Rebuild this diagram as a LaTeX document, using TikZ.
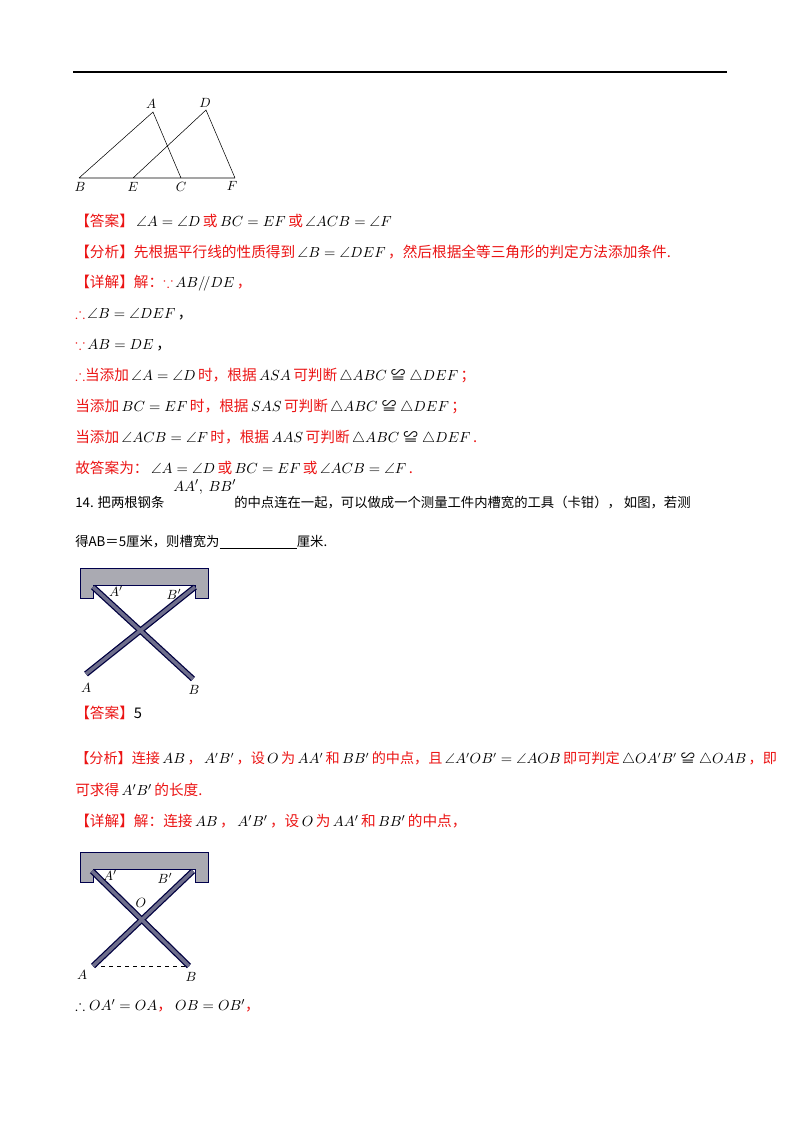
\documentclass[tikz,border=0pt]{standalone}
\usepackage{amsmath,amssymb}
\usepackage{fontspec}
\setmainfont{Noto Sans CJK SC}
\definecolor{ansred}{RGB}{235,20,20}
\definecolor{stick}{RGB}{110,110,140}
\definecolor{slot}{RGB}{170,170,178}
\tikzset{
  txt/.style={anchor=west,inner sep=0pt,font=\fontsize{11}{13}\selectfont},
  red/.style={txt,text=ansred},
  lbl/.style={inner sep=0pt,font=\fontsize{10}{12}\selectfont},
  rod/.style={line width=4.5pt,draw=black!75!blue,line cap=butt},
  rodin/.style={line width=2.6pt,draw=stick,line cap=butt}
}
\newcommand{\congr}{\mathrel{\text{≌}}}
\newcommand{\m}[1]{\,\textcolor{black}{$#1$}\,}
\begin{document}
\begin{tikzpicture}[x=0.75pt,y=-0.75pt]
\useasboundingbox (0,0) rectangle (800,1132);
\draw[line width=1.5pt] (73,72) -- (727,72);
% first figure
\coordinate (B) at (79,178); \coordinate (E) at (133,178);
\coordinate (C) at (181,178); \coordinate (F) at (235,178);
\coordinate (A) at (153,112); \coordinate (D) at (206,110);
\draw[thin] (B) -- (A) -- (C) (E) -- (D) -- (F) (B) -- (F);
\node[lbl] (lB) at (80,187) {$B$}; \node[lbl] (lE) at (133,187) {$E$};
\node[lbl] (lC) at (181,187) {$C$}; \node[lbl] (lF) at (232,186) {$F$};
\node[lbl] (lA) at (151,104) {$A$}; \node[lbl] (lD) at (205,103) {$D$};
% solution 13
\node[red] (t1) at (75,221) {【答案】\m{\angle A=\angle D}或\m{BC=EF}或\m{\angle ACB=\angle F}};
\node[red] (t2) at (75,252) {【分析】先根据平行线的性质得到\m{\angle B=\angle DEF}，然后根据全等三角形的判定方法添加条件.};
\node[red] (t3) at (75,283) {【详解】解：$\because$\m{AB/\!/DE}，};
\node[txt] (t4) at (75,314) {\textcolor{ansred}{$\therefore$}\,$\angle B=\angle DEF$\,，};
\node[txt] (t5) at (75,345) {\textcolor{ansred}{$\because$}\,$AB=DE$\,，};
\node[red] (t6) at (75,376) {$\therefore$当添加\m{\angle A=\angle D}时，根据\m{ASA}可判断\m{\triangle ABC\congr\triangle DEF}；};
\node[red] (t7) at (75,407) {当添加\m{BC=EF}时，根据\m{SAS}可判断\m{\triangle ABC\congr\triangle DEF}；};
\node[red] (t8) at (75,438) {当添加\m{\angle ACB=\angle F}时，根据\m{AAS}可判断\m{\triangle ABC\congr\triangle DEF}.};
\node[red] (t9) at (75,468) {故答案为：\m{\angle A=\angle D}或\m{BC=EF}或\m{\angle ACB=\angle F}.};
% question 14
\node[txt] (q1) at (75,502) {\fontsize{10}{12}\selectfont 14. 把两根钢条};
\node[txt] (q1s) at (173,487) {$AA',\ BB'$};
\node[txt] (q1b) at (234,502) {\fontsize{10}{12}\selectfont 的中点连在一起，可以做成一个测量工件内槽宽的工具（卡钳），\ 如图，若测};
\node[txt] (q2) at (75,542) {\fontsize{10}{12}\selectfont 得AB＝5厘米，则槽宽为\underline{\hspace{58pt}}厘米.};
% second figure
\def\caliper#1{%
  \filldraw[fill=slot,draw=black!70!blue] (80,#1) -- (208,#1) -- (208,#1+30) -- (195,#1+30)
    -- (195,#1+17) -- (93,#1+17) -- (93,#1+30) -- (80,#1+30) -- cycle;}
\caliper{568}
\coordinate (Ap) at (93,587); \coordinate (Bp) at (195,587);
\coordinate (Ae) at (86,674); \coordinate (Be) at (193,679);
\draw[rod] (Ap) -- (Be); \draw[rod] (Bp) -- (Ae);
\draw[rodin] (Ap) -- (Be); \draw[rodin] (Bp) -- (Ae);
\node[lbl] (lA2) at (86,688) {$A$}; \node[lbl] (lB2) at (194,690) {$B$};
\node[lbl] (lAp2) at (116,591) {$A'$}; \node[lbl] (lBp2) at (174,594) {$B'$};
\node[red] (s1) at (75,713) {【答案】\textcolor{black}{5}};
\node[red,font=\fontsize{10.6}{13}\selectfont] (s2) at (75,759) {【分析】连接\m{AB}，\m{A'B'}，设\m{O}为\m{AA'}和\m{BB'}的中点，且\m{\angle A'OB'=\angle AOB}即可判定\m{\triangle OA'B'\congr\triangle OAB}，即};
\node[red] (s3) at (75,790) {可求得\m{A'B'}的长度.};
\node[red] (s4) at (75,821) {【详解】解：连接\m{AB}，\m{A'B'}，设\m{O}为\m{AA'}和\m{BB'}的中点，};
% third figure
\caliper{852}
\coordinate (Ap3) at (92,871); \coordinate (Bp3) at (193,871);
\coordinate (Ae3) at (93,966); \coordinate (Be3) at (189,966);
\draw[dashed,thin] (Ae3) -- (Be3);
\draw[rod] (Ap3) -- (Be3); \draw[rod] (Bp3) -- (Ae3);
\draw[rodin] (Ap3) -- (Be3); \draw[rodin] (Bp3) -- (Ae3);
\node[lbl] (lO) at (141,903) {$O$};
\node[lbl] (lA3) at (82,975) {$A$}; \node[lbl] (lB3) at (191,977) {$B$};
\node[lbl] (lAp3) at (110,875) {$A'$}; \node[lbl] (lBp3) at (165,878) {$B'$};
\node[txt] (e1) at (75,1006) {$\therefore OA'=OA$\textcolor{ansred}{，}\ $OB=OB'$\textcolor{ansred}{，}};
\end{tikzpicture}
\end{document}
